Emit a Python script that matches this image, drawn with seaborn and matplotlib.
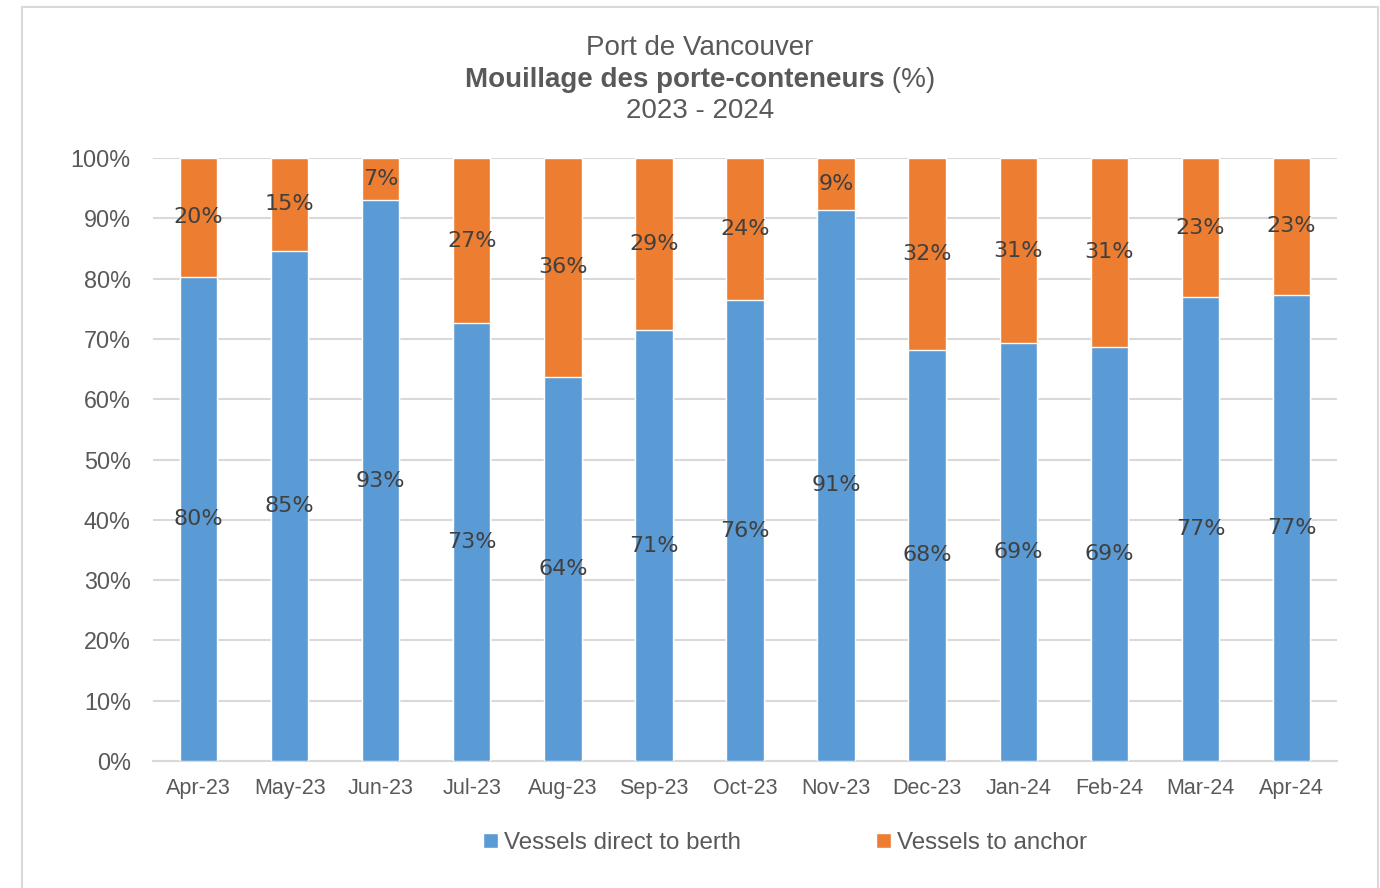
import matplotlib
matplotlib.use("Agg")
import matplotlib.pyplot as plt
import seaborn as sns
import pandas as pd
from matplotlib.patches import Rectangle, Patch

months = ["Apr-23", "May-23", "Jun-23", "Jul-23", "Aug-23", "Sep-23", "Oct-23",
          "Nov-23", "Dec-23", "Jan-24", "Feb-24", "Mar-24", "Apr-24"]
direct_to_berth = [80.3, 84.6, 93.0, 72.6, 63.7, 71.4, 76.4, 91.4, 68.2, 69.3, 68.7, 76.9, 77.3]
to_anchor = [19.7, 15.4, 7.0, 27.4, 36.3, 28.6, 23.6, 8.6, 31.8, 30.7, 31.3, 23.1, 22.7]
y_ticks = [0, 10, 20, 30, 40, 50, 60, 70, 80, 90, 100]
series_names = ["Vessels direct to berth", "Vessels to anchor"]

BLUE = "#5B9BD5"
ORANGE = "#ED7D31"
TXT = "#595959"
LBL = "#404040"
GRID = "#D9D9D9"

sns.set_theme(style="white")
plt.rcParams["font.family"] = ["Liberation Sans", "DejaVu Sans"]

df = pd.DataFrame({"month": months, "berth": direct_to_berth, "anchor": to_anchor})
df["total"] = df["berth"] + df["anchor"]

fig = plt.figure(figsize=(13.8, 8.88), dpi=100)
ax = fig.add_axes([153 / 1380, 1 - 761 / 888, (1337 - 153) / 1380, (761 - 158) / 888])

# chart border
fig.patches.append(Rectangle((22 / 1380, -0.01), (1378 - 22) / 1380, 1 - 7 / 888 + 0.01,
                             transform=fig.transFigure, fill=False,
                             edgecolor="#D9D9D9", linewidth=1.5))

width = 0.41
sns.barplot(data=df, x="month", y="total", color=ORANGE, width=width, ax=ax,
            saturation=1, zorder=2)
sns.barplot(data=df, x="month", y="berth", color=BLUE, width=width, ax=ax,
            saturation=1, zorder=3)

for i, (b, a) in enumerate(zip(direct_to_berth, to_anchor)):
    ax.text(i, b / 2, f"{b:.0f}%", ha="center", va="center", fontsize=16,
            color=LBL, family="DejaVu Sans", zorder=5)
    ax.text(i, b + a / 2, f"{a:.0f}%", ha="center", va="center", fontsize=16,
            color=LBL, family="DejaVu Sans", zorder=5)

ax.set_ylim(0, 100)
ax.set_xlim(-0.5, len(months) - 0.5)
ax.set_yticks(y_ticks)
ax.set_yticklabels([f"{v}%" for v in y_ticks])
ax.yaxis.grid(True, color=GRID, linewidth=1.5, zorder=0)
ax.set_axisbelow(True)
ax.tick_params(axis="both", length=0, colors=TXT)
ax.tick_params(axis="y", pad=16, labelsize=16.8)
ax.tick_params(axis="x", pad=12, labelsize=15.5)
ax.set_xlabel("")
ax.set_ylabel("")
for s in ["left", "right", "top"]:
    ax.spines[s].set_visible(False)
ax.spines["bottom"].set_color(GRID)
ax.spines["bottom"].set_linewidth(1.5)

# titles
cx = 700 / 1380
fig.text(cx, 1 - 48 / 888, "Port de Vancouver", ha="center", va="center",
         fontsize=20, color=TXT)
fig.text(cx, 1 - 111 / 888, "2023 - 2024", ha="center", va="center",
         fontsize=20, color=TXT)
t1 = fig.text(0, 1 - 80 / 888, "Mouillage des porte-conteneurs", ha="left", va="center",
              fontsize=20, color=TXT, weight="bold")
t2 = fig.text(0, 1 - 80 / 888, " (%)", ha="left", va="center", fontsize=20, color=TXT)
r = fig.canvas.get_renderer()
w1 = t1.get_window_extent(r).width
w2 = t2.get_window_extent(r).width
x0 = 700 - (w1 + w2) / 2
t1.set_x(x0 / 1380)
t2.set_x((x0 + w1) / 1380)

# legend
handles = [Patch(facecolor=BLUE), Patch(facecolor=ORANGE)]
fig.legend(handles, series_names, loc="center", bbox_to_anchor=(785 / 1380, 1 - 843 / 888),
           ncol=2, frameon=False, fontsize=17.4, labelcolor=TXT, handlelength=0.6,
           handleheight=0.6, handletextpad=0.25, columnspacing=5.6)

fig.savefig("out.png", dpi=100)
